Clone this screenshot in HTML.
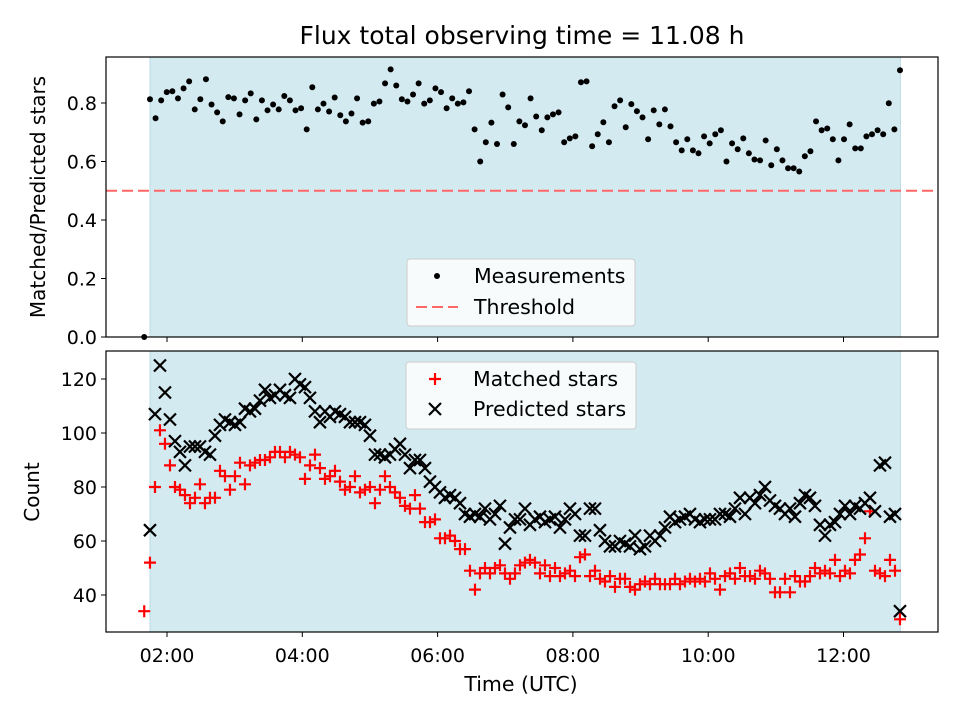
<!DOCTYPE html>
<html><head><meta charset="utf-8"><style>
body{margin:0;background:#fff}
svg text{font-family:"DejaVu Sans","Liberation Sans",sans-serif;fill:#000}
</style></head><body>
<svg id="chart" width="960" height="720" xmlns="http://www.w3.org/2000/svg"></svg>
<script>
const ratioValues=[0.813,0.748,0.809,0.837,0.84,0.816,0.85,0.874,0.778,0.813,0.881,0.795,0.768,0.737,0.82,0.816,0.761,0.809,0.833,0.744,0.809,0.775,0.795,0.778,0.824,0.809,0.775,0.782,0.71,0.854,0.778,0.798,0.771,0.819,0.758,0.737,0.764,0.816,0.733,0.737,0.798,0.805,0.867,0.915,0.86,0.813,0.805,0.829,0.867,0.798,0.809,0.85,0.837,0.782,0.816,0.798,0.802,0.84,0.71,0.6,0.666,0.733,0.66,0.829,0.785,0.66,0.737,0.724,0.816,0.754,0.707,0.751,0.761,0.768,0.666,0.679,0.686,0.871,0.874,0.652,0.693,0.734,0.666,0.789,0.809,0.717,0.796,0.772,0.751,0.676,0.775,0.727,0.778,0.72,0.666,0.638,0.676,0.638,0.628,0.686,0.662,0.693,0.707,0.6,0.662,0.642,0.679,0.628,0.607,0.604,0.672,0.587,0.642,0.604,0.577,0.577,0.566,0.618,0.635,0.737,0.707,0.713,0.676,0.604,0.676,0.727,0.645,0.645,0.686,0.693,0.707,0.693,0.799,0.71,0.912];
const predictedValues=[64,107,125,115,105,97,93,88,95,95,95,93,92,99,103,105,104,103,104,109,108,109,112,116,113,114,116,114,113,120,118,117,113,108,104,108,106,108,107,106,104,104,104,103,99,92,92,91,92,94,96,92,87,90,90,87,82,80,78,76,77,76,74,70,69,70,69,72,68,70,73,59,65,68,68,72,66,68,69,67,68,69,65,68,72,70,62,62,72,72,64,60,58,58,60,59,58,62,57,58,62,60,62,65,69,67,68,69,70,68,67,68,68,68,70,70,69,72,76,70,76,74,77,80,75,73,72,70,72,69,74,77,76,73,66,62,66,67,70,73,70,73,72,74,76,71,88,89,69,70,34];
const matchedValues=[52,80,101,96,88,80,79,77,74,76,81,74,76,76,86,84,79,84,89,81,88,89,90,90,91,93,93,91,93,92,91,83,88,92,87,83,84,86,82,79,80,84,78,79,80,74,79,84,80,78,76,73,72,77,72,67,67,68,61,61,62,60,57,57,49,42,48,50,48,50,51,48,46,48,51,52,53,52,48,51,47,50,47,48,49,47,54,55,47,49,46,45,47,43,46,46,43,42,44,45,44,46,44,44,44,46,44,45,46,45,46,45,48,46,42,47,48,46,50,47,47,46,49,48,46,41,41,46,41,47,45,45,47,50,48,49,48,53,47,49,48,53,55,61,71,49,48,47,53,49,31];
const ratioStartMin=104.9, ratioEndMin=770.1;
const countStartMin=104.9, countEndMin=770.1;
const earlyTimeMin=99.8, earlyRatio=0.0, earlyMatched=34;
const thresholdValue=0.5;
const shadeStartMin=104.9, shadeEndMin=770.5;
const xTickMin=[120,240,360,480,600,720];
const xTickLabels=["02:00","04:00","06:00","08:00","10:00","12:00"];
const topYTicks=[0.0,0.2,0.4,0.6,0.8];
const botYTicks=[40,60,80,100,120];

const NS="http://www.w3.org/2000/svg";
const svg=document.getElementById('chart');
function mk(tag,attrs,parent){const e=document.createElementNS(NS,tag);for(const k in attrs)e.setAttribute(k,attrs[k]);(parent||svg).appendChild(e);return e;}
const X0=106,X1=938;
function xs(m){return 167+(m-120)/60*67.65;}
function yTop(v){return 337-v*292.5;}
function yBot(v){return 595-(v-40)*2.7;}
const ratioTimes=ratioValues.map((_,i)=>ratioStartMin+i*(ratioEndMin-ratioStartMin)/(ratioValues.length-1));
const countTimes=predictedValues.map((_,i)=>countStartMin+i*(countEndMin-countStartMin)/(predictedValues.length-1));

let t=mk('text',{x:522,y:44,'text-anchor':'middle','font-size':'25'});t.textContent='Flux total observing time = 11.08 h';



function panel(yA,yB,name){
  const g=mk('g',{});
  
  
  const r=mk('rect',{x:xs(shadeStartMin),y:yA,width:xs(shadeEndMin)-xs(shadeStartMin),height:yB-yA,fill:'#d4eaf1',stroke:'#bcdbe6','stroke-width':1},g);
  
  
  return g;
}
function frame(yA,yB,g){mk('rect',{x:X0,y:yA,width:X1-X0,height:yB-yA,fill:'none',stroke:'#000','stroke-width':1.2},g);}

// TOP PANEL
const gt=panel(57,337,'ratio-panel');
const th=mk('line',{x1:X0,x2:X1,y1:yTop(thresholdValue),y2:yTop(thresholdValue),stroke:'#ff6666','stroke-width':2,'stroke-dasharray':'11,5'},gt);


const e0=mk('circle',{cx:xs(earlyTimeMin),cy:yTop(earlyRatio),r:3,fill:'#000'},gt);


ratioValues.forEach((v,i)=>{
  const c=mk('circle',{cx:xs(ratioTimes[i]),cy:yTop(v),r:3,fill:'#000'},gt);
  
  
});
frame(57,337,gt);
topYTicks.forEach(v=>{
  const y=yTop(v);
  mk('line',{x1:X0-5,x2:X0,y1:y,y2:y,stroke:'#000'},gt);
  const tx=mk('text',{x:X0-9,y:y+7,'text-anchor':'end','font-size':'19'},gt);tx.textContent=v.toFixed(1);
  
  
});
xTickMin.forEach(m=>mk('line',{x1:xs(m),x2:xs(m),y1:337,y2:342,stroke:'#000'},gt));
let yl=mk('text',{x:45,y:197,'text-anchor':'middle','font-size':'20',transform:'rotate(-90 45 197)'},gt);yl.textContent='Matched/Predicted stars';


const lg1=mk('g',{},gt);


mk('rect',{x:407,y:259,width:228,height:67,rx:3,fill:'#fff','fill-opacity':0.8,stroke:'#ccc'},lg1);
mk('circle',{cx:437,cy:276,r:3,fill:'#000'},lg1);
let lt=mk('text',{x:474,y:283,'font-size':'20.5'},lg1);lt.textContent='Measurements';


mk('line',{x1:416,x2:458,y1:307,y2:307,stroke:'#ff6666','stroke-width':2,'stroke-dasharray':'11,5'},lg1);
lt=mk('text',{x:474,y:314,'font-size':'20.5'},lg1);lt.textContent='Threshold';



// BOTTOM PANEL
const gb=panel(351,632,'count-panel');
function plus(x,y,g){return mk('path',{d:`M${x-6},${y}H${x+6}M${x},${y-6}V${y+6}`,stroke:'#ff0000','stroke-width':2.2,fill:'none'},g);}
function cross(x,y,g){return mk('path',{d:`M${x-6},${y-6}L${x+6},${y+6}M${x-6},${y+6}L${x+6},${y-6}`,stroke:'#000','stroke-width':2.2,fill:'none'},g);}
let pe=plus(xs(earlyTimeMin),yBot(earlyMatched),gb);


matchedValues.forEach((v,i)=>{
  const p=plus(xs(countTimes[i]),yBot(v),gb);
  
  
});
predictedValues.forEach((v,i)=>{
  const p=cross(xs(countTimes[i]),yBot(v),gb);
  
  
});
frame(351,632,gb);
botYTicks.forEach(v=>{
  const y=yBot(v);
  mk('line',{x1:X0-5,x2:X0,y1:y,y2:y,stroke:'#000'},gb);
  const tx=mk('text',{x:X0-9,y:y+7,'text-anchor':'end','font-size':'19'},gb);tx.textContent=String(v);
  
  
});
xTickMin.forEach((m,i)=>{
  mk('line',{x1:xs(m),x2:xs(m),y1:632,y2:637,stroke:'#000'},gb);
  const tx=mk('text',{x:xs(m),y:662,'text-anchor':'middle','font-size':'19'},gb);tx.textContent=xTickLabels[i];
  
  
});
yl=mk('text',{x:39,y:492,'text-anchor':'middle','font-size':'20',transform:'rotate(-90 39 492)'},gb);yl.textContent='Count';


let xl=mk('text',{x:521,y:691,'text-anchor':'middle','font-size':'20.5'},gb);xl.textContent='Time (UTC)';


const lg2=mk('g',{},gb);


mk('rect',{x:406,y:362,width:230,height:67,rx:3,fill:'#fff','fill-opacity':0.8,stroke:'#ccc'},lg2);
plus(435,379,lg2);
lt=mk('text',{x:473,y:386,'font-size':'20.5'},lg2);lt.textContent='Matched stars';


cross(435,409,lg2);
lt=mk('text',{x:473,y:416,'font-size':'20.5'},lg2);lt.textContent='Predicted stars';


</script>
</body></html>
